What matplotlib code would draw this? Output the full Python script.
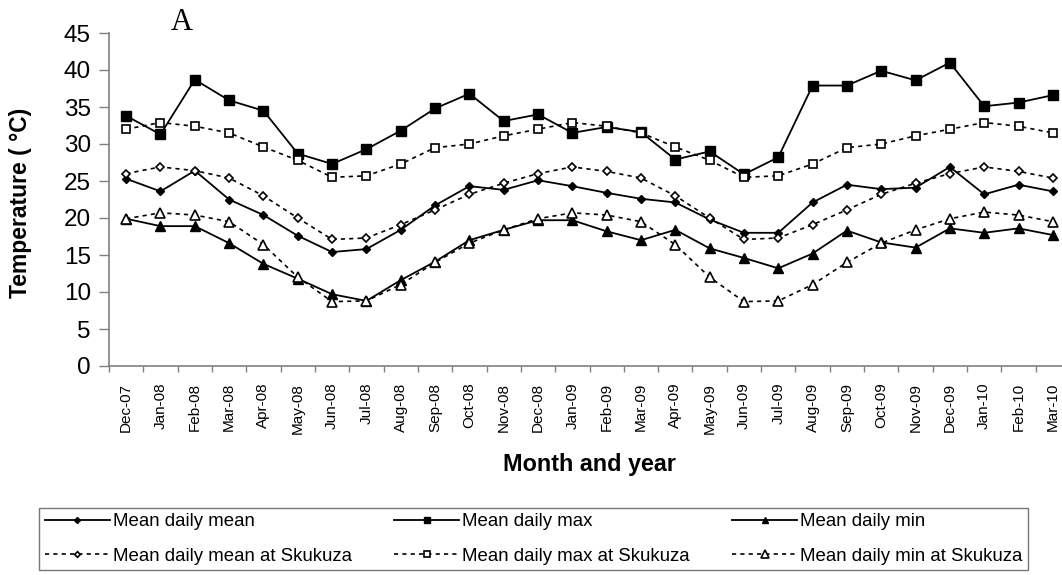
import numpy as np
import matplotlib; matplotlib.use("Agg")
import matplotlib.pyplot as plt
from matplotlib.ticker import MultipleLocator, FixedLocator

plt.rcParams["font.family"] = ["Liberation Sans", "DejaVu Sans"]

# ---------- monthly temperatures (deg C) ----------
months = ["Dec-07", "Jan-08", "Feb-08", "Mar-08", "Apr-08", "May-08", "Jun-08",
          "Jul-08", "Aug-08", "Sep-08", "Oct-08", "Nov-08", "Dec-08", "Jan-09",
          "Feb-09", "Mar-09", "Apr-09", "May-09", "Jun-09", "Jul-09", "Aug-09",
          "Sep-09", "Oct-09", "Nov-09", "Dec-09", "Jan-10", "Feb-10", "Mar-10"]

daily_mean = [25.3, 23.6, 26.4, 22.5, 20.4, 17.6, 15.4, 15.8, 18.4, 21.7, 24.3, 23.8,
              25.1, 24.3, 23.4, 22.6, 22.1, 19.8, 18.0, 18.0, 22.1, 24.5, 23.9, 24.1,
              26.9, 23.2, 24.5, 23.6]
daily_max = [33.8, 31.3, 38.7, 35.9, 34.5, 28.7, 27.3, 29.3, 31.8, 34.8, 36.8, 33.1,
             34.0, 31.5, 32.3, 31.6, 27.9, 29.0, 25.9, 28.2, 37.9, 37.9, 39.9, 38.6,
             41.0, 35.1, 35.6, 36.6]
daily_min = [19.9, 18.9, 18.9, 16.6, 13.8, 11.8, 9.7, 8.8, 11.6, 14.1, 17.0, 18.4,
             19.7, 19.7, 18.2, 17.0, 18.4, 15.9, 14.6, 13.2, 15.2, 18.3, 16.7, 16.0,
             18.6, 18.0, 18.6, 17.7]

skuk_mean = [26.0, 26.9, 26.4, 25.4, 23.0, 20.0, 17.1, 17.3, 19.1, 21.1, 23.2, 24.7,
             26.0, 26.9, 26.3, 25.4, 23.0, 20.0, 17.1, 17.3, 19.1, 21.1, 23.2, 24.7,
             26.0, 26.9, 26.3, 25.4]
skuk_max = [32.0, 32.9, 32.4, 31.5, 29.6, 27.8, 25.5, 25.7, 27.3, 29.5, 30.0, 31.1,
            32.0, 32.9, 32.4, 31.5, 29.6, 27.8, 25.5, 25.7, 27.3, 29.5, 30.0, 31.1,
            32.0, 32.9, 32.4, 31.5]
skuk_min = [19.9, 20.7, 20.4, 19.5, 16.4, 12.0, 8.7, 8.8, 11.0, 14.0, 16.6, 18.4,
            19.9, 20.7, 20.4, 19.5, 16.4, 12.0, 8.7, 8.8, 11.0, 14.0, 16.6, 18.4,
            19.9, 20.8, 20.4, 19.5]

x = np.arange(len(months))
DOT = (0, (2.5, 2.5))
GREY = "#808080"

fig = plt.figure(figsize=(10.62, 5.75), dpi=100)
ax = fig.add_axes([109/1062, 209/575, 961/1062, 333/575])

h_mean, = ax.plot(x, daily_mean, "-", color="k", lw=1.3, marker="D", ms=4.4,
                  mfc="k", mec="k", label="Mean daily mean")
h_smean, = ax.plot(x, skuk_mean, color="k", ls=DOT, lw=1.2, marker="D", ms=4.1,
                   mfc="white", mec="k", mew=1.2, label="Mean daily mean at Skukuza")
h_max, = ax.plot(x, daily_max, "-", color="k", lw=1.3, marker="s", ms=6.5,
                 mfc="k", mec="k", label="Mean daily max")
h_smax, = ax.plot(x, skuk_max, color="k", ls=DOT, lw=1.2, marker="s", ms=6.0,
                  mfc="white", mec="k", mew=1.2, label="Mean daily max at Skukuza")
h_min, = ax.plot(x, daily_min, "-", color="k", lw=1.3, marker="^", ms=6.7,
                 mfc="k", mec="k", label="Mean daily min")
h_smin, = ax.plot(x, skuk_min, color="k", ls=DOT, lw=1.2, marker="^", ms=7.3,
                  mfc="white", mec="k", mew=1.2, label="Mean daily min at Skukuza")

ax.set_xlim(-0.5, len(months) - 0.5)
ax.set_ylim(0, 45)
ax.yaxis.set_major_locator(MultipleLocator(5))
ax.set_xticks(x)
ax.set_xticklabels(months, rotation=90, fontsize=11)
ax.xaxis.set_minor_locator(FixedLocator(np.arange(-0.5, len(months), 1.0)))
ax.tick_params(axis="x", which="major", length=0, pad=12)
ax.tick_params(axis="x", which="minor", length=4, width=1, color=GREY, direction="out")
ax.tick_params(axis="y", length=7, width=1, color=GREY, direction="out",
               labelsize=17.5, pad=6)

for s in ("top", "right"):
    ax.spines[s].set_visible(False)
for s in ("left", "bottom"):
    ax.spines[s].set_color(GREY)
    ax.spines[s].set_linewidth(1.2)

ax.set_ylabel("Temperature ( °C)", fontsize=16.5, fontweight="bold")
ax.yaxis.set_label_coords(-0.08, 0.489)
ax.set_xlabel("Month and year", fontsize=16.8, fontweight="bold")
ax.xaxis.set_label_coords(0.5, -0.262)

fig.text(182/1062, 1 - 22/575, "A", ha="center", va="center",
         family="Liberation Serif", fontsize=22)

handles = [h_mean, h_smean, h_max, h_smax, h_min, h_smin]
leg = fig.legend(handles=handles, labels=[h.get_label() for h in handles],
                 ncol=3, loc="center", mode="expand",
                 bbox_to_anchor=(39/1062, 1 - 573/575, 989/1062, 68/575),
                 fontsize=13.4, frameon=True, fancybox=False,
                 handlelength=3.5, handletextpad=0.15, markerscale=0.7,
                 borderaxespad=0, borderpad=0.3, labelspacing=0.95,
                 columnspacing=1.0)
leg.get_frame().set_edgecolor("#555555")
leg.get_frame().set_linewidth(1.0)

fig.savefig("out.png", dpi=100)
